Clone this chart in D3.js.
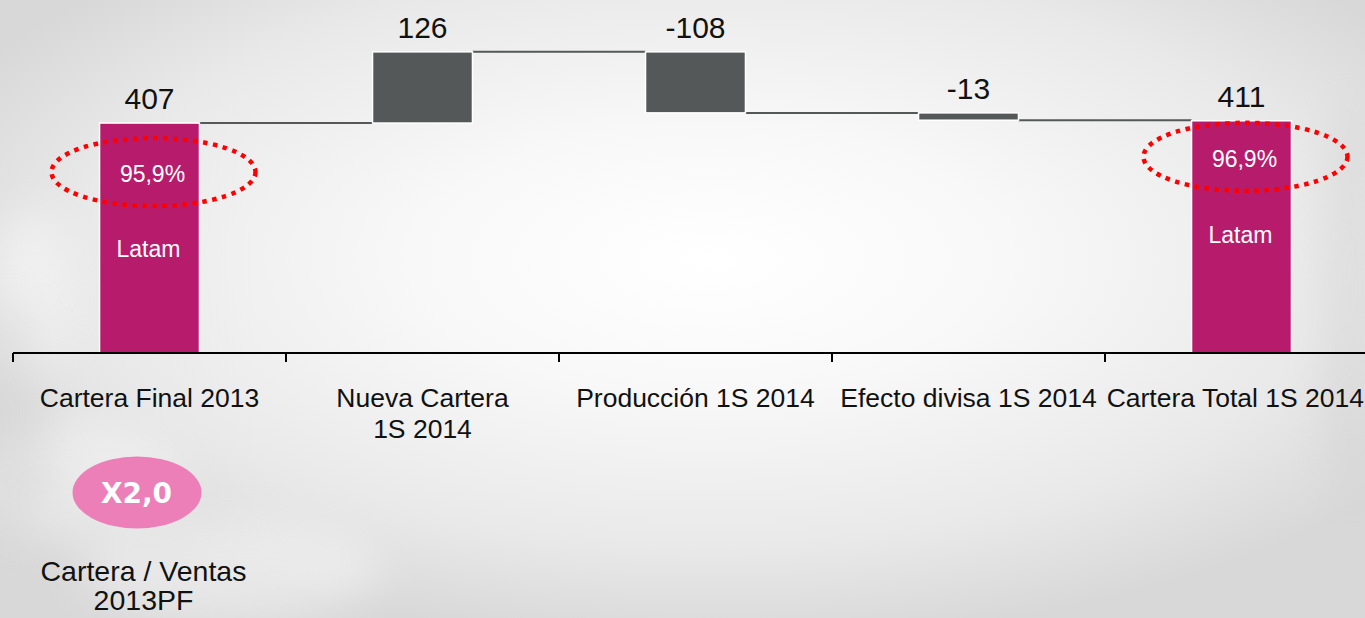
<!DOCTYPE html>
<html>
<head>
<meta charset="utf-8">
<script src="https://cdn.jsdelivr.net/npm/d3@7"></script>
<style>
  html, body { margin: 0; padding: 0; background: #fff; overflow: hidden; }
  svg { display: block; }
  text { font-family: "Liberation Sans", Arial, sans-serif; }
</style>
</head>
<body>
<svg id="chart" width="1365" height="618"></svg>
<script>
// ---- data ----
const categories = ["Cartera Final 2013", "Nueva Cartera\n1S 2014", "Producción 1S 2014", "Efecto divisa 1S 2014", "Cartera Total 1S 2014"];
const values = [407, 126, -108, -13, 411];
const kinds = ["total", "delta", "delta", "delta", "total"];
const valueLabels = ["407", "126", "-108", "-13", "411"];
const shareLabels = ["95,9%", null, null, null, "96,9%"];
const regionLabels = ["Latam", null, null, null, "Latam"];
const ratioLabel = "X2,0";
const ratioCaption = ["Cartera / Ventas", "2013PF"];

// ---- build waterfall segments ----
let running = 0;
const segs = values.map((v, i) => {
  let start, end;
  if (kinds[i] === "total") { start = 0; end = v; running = v; }
  else { start = running; end = running + v; running = end; }
  return { cat: categories[i], i, v, start, end, kind: kinds[i] };
});

const svg = d3.select("#chart");
const W = 1365, H = 618;

// ---- background ----
const defs = svg.append("defs");
const rg = defs.append("radialGradient").attr("id", "bg")
  .attr("cx", "0.52").attr("cy", "0.42").attr("r", "0.62");
rg.append("stop").attr("offset", "0").attr("stop-color", "#ffffff");
rg.append("stop").attr("offset", "0.35").attr("stop-color", "#f8f8f8");
rg.append("stop").attr("offset", "0.75").attr("stop-color", "#e9e9e9");
rg.append("stop").attr("offset", "1").attr("stop-color", "#d8d8d8");
svg.append("rect").attr("width", W).attr("height", H).attr("fill", "url(#bg)");
const blur = defs.append("filter").attr("id", "blur").attr("x", "-50%").attr("y", "-50%").attr("width", "200%").attr("height", "200%");
blur.append("feGaussianBlur").attr("stdDeviation", 20);
const clouds = svg.append("g").attr("filter", "url(#blur)").attr("opacity", 0.4);
[[70, 480, 110, 60], [230, 570, 150, 50], [30, 300, 40, 90]].forEach(c => {
  clouds.append("ellipse").attr("cx", c[0]).attr("cy", c[1]).attr("rx", c[2]).attr("ry", c[3]).attr("fill", "#ffffff");
});
const shade = svg.append("g").attr("filter", "url(#blur)").attr("opacity", 0.3);
[[10, 420, 40, 120], [1350, 300, 30, 200]].forEach(c => {
  shade.append("ellipse").attr("cx", c[0]).attr("cy", c[1]).attr("rx", c[2]).attr("ry", c[3]).attr("fill", "#c8c8c8");
});

// ---- scales ----
const x = d3.scaleBand().domain(categories).range([13, 1378]).paddingInner(0.634).paddingOuter(0.317);
const xBand = d3.scaleBand().domain(categories).range([13, 1378]).padding(0);
const y = d3.scaleLinear().domain([0, 600]).range([353, 14]);

// ---- connectors ----
const conn = svg.append("g");
segs.slice(0, -1).forEach((s, k) => {
  const next = segs[k + 1];
  conn.append("line")
    .attr("x1", x(s.cat) + x.bandwidth()).attr("x2", x(next.cat))
    .attr("y1", y(s.end)).attr("y2", y(s.end))
    .attr("stroke", "#555859").attr("stroke-width", 2);
});

// ---- bars ----
svg.append("g").selectAll("rect").data(segs).join("rect")
  .attr("x", d => x(d.cat))
  .attr("width", x.bandwidth())
  .attr("y", d => y(Math.max(d.start, d.end)))
  .attr("height", d => Math.abs(y(d.start) - y(d.end)))
  .attr("fill", d => d.kind === "total" ? "#b71c6c" : "#545859")
  .attr("stroke", "#ffffff").attr("stroke-width", 1.5);

// ---- value labels ----
svg.append("g").selectAll("text").data(segs).join("text")
  .attr("x", d => x(d.cat) + x.bandwidth() / 2)
  .attr("y", d => y(Math.max(d.start, d.end)) - 14)
  .attr("text-anchor", "middle")
  .attr("font-size", 30).attr("fill", "#111")
  .text((d, i) => valueLabels[i]);

// ---- axis ----
const axisG = svg.append("g");
axisG.append("line").attr("x1", 13).attr("x2", W).attr("y1", 353).attr("y2", 353)
  .attr("stroke", "#000").attr("stroke-width", 2);
categories.forEach(c => {
  const tx = xBand(c);
  axisG.append("line").attr("x1", tx).attr("x2", tx).attr("y1", 353).attr("y2", 362)
    .attr("stroke", "#000").attr("stroke-width", 2);
});
categories.forEach(c => {
  const lines = c.split("\n");
  const cx = xBand(c) + xBand.bandwidth() / 2;
  const t = axisG.append("text")
    .attr("y", 407)
    .attr("text-anchor", "middle").attr("font-size", 26.5).attr("fill", "#111");
  const spans = lines.map((ln, j) =>
    t.append("tspan").attr("x", cx).attr("dy", j === 0 ? 0 : 31).text(ln));
  // keep text within the right edge
  const wMax = d3.max(spans, s => s.node().getComputedTextLength());
  const shift = Math.min(0, (W - 1) - (cx + wMax / 2));
  spans.forEach(s => s.attr("x", cx + shift));
});

// ---- inner labels & dotted ellipses ----
const pctOffset = [59, 0, 0, 0, 46];
const regOffset = [134, 0, 0, 0, 122];
segs.forEach((s, i) => {
  if (!shareLabels[i]) return;
  const cx = x(s.cat) + x.bandwidth() / 2;
  const by = y(s.end) + pctOffset[i];
  svg.append("text").attr("x", cx + 3).attr("y", by)
    .attr("text-anchor", "middle").attr("font-size", 23).attr("fill", "#ffffff")
    .text(shareLabels[i]);
  svg.append("text").attr("x", cx - 1).attr("y", y(s.end) + regOffset[i])
    .attr("text-anchor", "middle").attr("font-size", 23).attr("fill", "#ffffff")
    .text(regionLabels[i]);
  svg.append("ellipse").attr("cx", cx + 4).attr("cy", by - 10)
    .attr("rx", 102).attr("ry", 34)
    .attr("fill", "none").attr("stroke", "#ff0000")
    .attr("stroke-width", 4.5).attr("stroke-dasharray", "4.5 5.5");
});

// ---- ratio badge ----
const firstCx = xBand(categories[0]) + xBand.bandwidth() / 2;
svg.append("ellipse").attr("cx", firstCx - 12.5).attr("cy", 492.5).attr("rx", 64.5).attr("ry", 36)
  .attr("fill", "#ec7fb8");
svg.append("text").attr("x", firstCx - 13).attr("y", 503)
  .attr("text-anchor", "middle").attr("font-size", 28).attr("font-weight", "bold")
  .attr("fill", "#ffffff").style("font-family", "'DejaVu Sans', Verdana, sans-serif")
  .text(ratioLabel);
const cap = svg.append("text").attr("x", firstCx - 6).attr("y", 581)
  .attr("text-anchor", "middle").attr("font-size", 28.5).attr("fill", "#111");
ratioCaption.forEach((ln, j) => {
  cap.append("tspan").attr("x", firstCx - 6).attr("dy", j === 0 ? 0 : 29).text(ln);
});
</script>
</body>
</html>
